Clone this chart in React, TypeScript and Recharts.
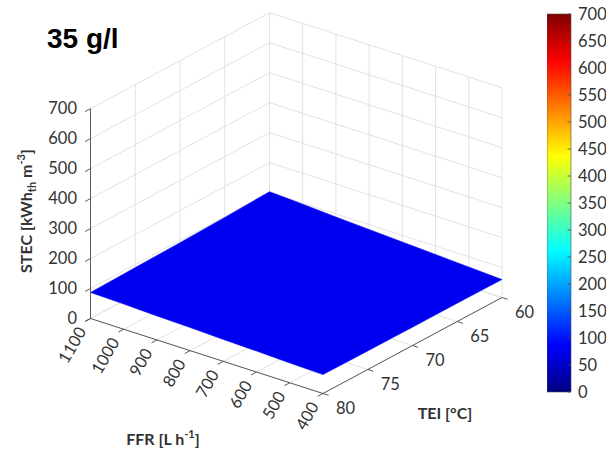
import React from 'react';
import { ComposedChart, Line, Area, Scatter, XAxis, YAxis, BarChart, Bar } from 'recharts';

// ---------- data ----------
const FFR_VALUES = [400, 500, 600, 700, 800, 900, 1000, 1100];
const TEI_VALUES = [60, 65, 70, 75, 80];
// STEC rows, one per TEI value, columns follow FFR_VALUES
const STEC_TEI60 = [60, 66, 72, 78, 84, 90, 97, 103];
const STEC_TEI65 = [61, 66, 71, 76, 81, 86, 91, 97];
const STEC_TEI70 = [61, 65, 70, 74, 79, 84, 88, 93];
const STEC_TEI75 = [62, 66, 70, 74, 78, 82, 86, 90];
const STEC_TEI80 = [63, 66, 70, 73, 77, 80, 84, 87];
const STEC_ROWS = [STEC_TEI60, STEC_TEI65, STEC_TEI70, STEC_TEI75, STEC_TEI80];

const FFR_TICKS = [1100, 1000, 900, 800, 700, 600, 500, 400];
const TEI_TICKS = [80, 75, 70, 65, 60];
const STEC_TICKS = [0, 100, 200, 300, 400, 500, 600, 700];
const CBAR_TICKS = [0, 50, 100, 150, 200, 250, 300, 350, 400, 450, 500, 550, 600, 650, 700];
const CBAR_LIMITS = [0, 700];
const TITLE = '35 g/l';

// ---------- view / layout ----------
const W = 606;
const H = 456;
const FMAX = Math.max(...FFR_VALUES);
const FMIN = Math.min(...FFR_VALUES);
const TMAX = Math.max(...TEI_VALUES);
const TMIN = Math.min(...TEI_VALUES);
const ZMAX = Math.max(...STEC_TICKS);
const VIEW = {
  ax: 90.5,
  ay: 318.5,
  fx: 232.5 / 700,
  fy: 75 / 700,
  tx: 179 / 20,
  ty: -96 / 20,
  zy: 209.8 / 700,
};
const proj = (f: number, t: number, z: number) => ({
  x: VIEW.ax + (FMAX - f) * VIEW.fx + (TMAX - t) * VIEW.tx,
  y: VIEW.ay + (FMAX - f) * VIEW.fy + (TMAX - t) * VIEW.ty - z * VIEW.zy,
});

const GRID = '#e2e2e2';
const AXIS = '#4a4a4a';
const TXT = '#333333';
const FONT = 'Lato, "Open Sans", sans-serif';

function jet(v: number) {
  const x = (v - CBAR_LIMITS[0]) / (CBAR_LIMITS[1] - CBAR_LIMITS[0]);
  const c = (a: number) => Math.max(0, Math.min(1, a));
  const r = c(Math.min(4 * x - 1.5, -4 * x + 4.5));
  const g = c(Math.min(4 * x - 0.5, -4 * x + 3.5));
  const b = c(Math.min(4 * x + 0.5, -4 * x + 2.5));
  const h = (n: number) => Math.round(n * 255).toString(16).padStart(2, '0');
  return '#' + h(r) + h(g) + h(b);
}

type Pt = { x: number; y: number };
type Seg = { pts: Pt[] };

const stec = (f: number, t: number) => STEC_ROWS[TEI_VALUES.indexOf(t)][FFR_VALUES.indexOf(f)];

// grid segments (walls + floor)
const gridSegs: Seg[] = [];
STEC_TICKS.forEach((z) => {
  gridSegs.push({ pts: [proj(FMAX, TMAX, z), proj(FMAX, TMIN, z)] });
  gridSegs.push({ pts: [proj(FMAX, TMIN, z), proj(FMIN, TMIN, z)] });
});
TEI_TICKS.filter((t) => t !== TMAX).forEach((t) => {
  gridSegs.push({ pts: [proj(FMAX, t, 0), proj(FMAX, t, ZMAX)] });
});
FFR_TICKS.filter((f) => f !== FMAX).forEach((f) => {
  gridSegs.push({ pts: [proj(f, TMIN, 0), proj(f, TMIN, ZMAX)] });
});
FFR_TICKS.forEach((f) => gridSegs.push({ pts: [proj(f, TMAX, 0), proj(f, TMIN, 0)] }));
TEI_TICKS.forEach((t) => gridSegs.push({ pts: [proj(FMAX, t, 0), proj(FMIN, t, 0)] }));

// surface outline chains from data
const fDesc = [...FFR_VALUES].sort((a, b) => b - a);
const tDesc = [...TEI_VALUES].sort((a, b) => b - a);
const topChain: Pt[] = [
  ...tDesc.map((t) => proj(FMAX, t, stec(FMAX, t))),
  ...fDesc.slice(1).map((f) => proj(f, TMIN, stec(f, TMIN))),
];
const botChain: Pt[] = [
  ...fDesc.map((f) => proj(f, TMAX, stec(f, TMAX))),
  ...tDesc.slice(1).map((t) => proj(FMIN, t, stec(FMIN, t))),
];
const along = (chain: Pt[], x: number) => {
  for (let i = 0; i < chain.length - 1; i++) {
    const a = chain[i];
    const b = chain[i + 1];
    if (x >= a.x - 1e-9 && x <= b.x + 1e-9) {
      const k = b.x === a.x ? 0 : (x - a.x) / (b.x - a.x);
      return a.y + k * (b.y - a.y);
    }
  }
  return chain[chain.length - 1].y;
};
const xs = Array.from(new Set([...topChain, ...botChain].map((p) => p.x))).sort((a, b) => a - b);
const surfaceData = xs.map((x) => ({ x, range: [along(botChain, x), along(topChain, x)] }));
const allVals = STEC_ROWS.flat();
const surfaceColor = jet(allVals.reduce((s, v) => s + v, 0) / allVals.length);

// axes + ticks
const axisSegs: Seg[] = [
  { pts: [proj(FMAX, TMAX, 0), proj(FMAX, TMAX, ZMAX)] },
  { pts: [proj(FMAX, TMAX, 0), proj(FMIN, TMAX, 0)] },
  { pts: [proj(FMIN, TMAX, 0), proj(FMIN, TMIN, 0)] },
];
STEC_TICKS.forEach((z) => axisSegs.push({ pts: [proj(FMAX, TMAX, z), proj(FMAX, TMAX + 0.6, z)] }));
FFR_TICKS.forEach((f) => axisSegs.push({ pts: [proj(f, TMAX, 0), proj(f, TMAX + 0.6, 0)] }));
TEI_TICKS.forEach((t) => axisSegs.push({ pts: [proj(FMIN, t, 0), proj(FMIN - 17, t, 0)] }));

type Lab = Pt & { label: string; kind: string };
const labels: Lab[] = [
  ...STEC_TICKS.map((z) => ({ ...proj(FMAX, TMAX, z), label: String(z), kind: 'z' })),
  ...FFR_TICKS.map((f) => ({ ...proj(f, TMAX + 1, 0), label: String(f), kind: 'f' })),
  ...TEI_TICKS.map((t) => ({ ...proj(FMIN - 65, t, 0), label: String(t), kind: 't' })),
  { x: 47, y: 48, label: TITLE, kind: 'title' },
  { x: 32, y: 211, label: 'STEC', kind: 'ztitle' },
  { x: 163, y: 445, label: 'FFR', kind: 'ftitle' },
  { x: 445, y: 419, label: 'TEI [°C]', kind: 'ttitle' },
];

const LabelShape = (p: any) => {
  const { cx, cy, payload } = p;
  const k = payload.kind;
  if (k === 'z')
    return (
      <text x={cx - 13.5} y={cy - 1} textAnchor="end" dominantBaseline="central" fontSize={16.5} fontFamily={FONT} fill={TXT}>
        {payload.label}
      </text>
    );
  if (k === 'f')
    return (
      <text x={cx} y={cy + 5} textAnchor="end" dominantBaseline="central" fontSize={16.5} fontFamily={FONT} fill={TXT}
        transform={`rotate(-60 ${cx} ${cy + 5})`}>
        {payload.label}
      </text>
    );
  if (k === 't')
    return (
      <text x={cx + 1} y={cy + 7.5} textAnchor="middle" dominantBaseline="central" fontSize={16.5} fontFamily={FONT} fill={TXT}>
        {payload.label}
      </text>
    );
  if (k === 'title')
    return (
      <text x={cx} y={cy} fontSize={28} fontWeight="bold" fontFamily='"Liberation Sans", Arial, sans-serif' fill="#000">
        {payload.label}
      </text>
    );
  if (k === 'ztitle')
    return (
      <text x={cx} y={cy} textAnchor="middle" fontSize={16} fontWeight="bold" fontFamily={FONT} fill={TXT}
        transform={`rotate(-90 ${cx} ${cy})`}>
        STEC [kWh<tspan fontSize={11} dy={4}>th</tspan>
        <tspan dy={-4}> m</tspan>
        <tspan fontSize={11} dy={-7}>-3</tspan>
        <tspan dy={7}>]</tspan>
      </text>
    );
  if (k === 'ftitle')
    return (
      <text x={cx} y={cy} textAnchor="middle" fontSize={16} fontWeight="bold" fontFamily={FONT} fill={TXT}>
        FFR [L h<tspan fontSize={11} dy={-7}>-1</tspan>
        <tspan dy={7}>]</tspan>
      </text>
    );
  return (
    <text x={cx} y={cy} textAnchor="middle" fontSize={16} fontWeight="bold" fontFamily={FONT} fill={TXT}>
      {payload.label}
    </text>
  );
};

const Frame = ({ children }: { children: React.ReactNode }) => (
  <div style={{ position: 'absolute', left: 0, top: 0, width: W, height: H }}>
    <ComposedChart width={W} height={H} margin={{ top: 0, right: 0, bottom: 0, left: 0 }}>
      <XAxis type="number" dataKey="x" domain={[0, W]} hide allowDataOverflow />
      <YAxis type="number" dataKey="y" domain={[0, H]} reversed hide allowDataOverflow />
      {children}
    </ComposedChart>
  </div>
);

const segLines = (segs: Seg[], color: string, width: number, prefix: string) =>
  segs.map((s, i) => (
    <Line
      key={prefix + i}
      data={s.pts}
      dataKey="y"
      type="linear"
      stroke={color}
      strokeWidth={width}
      dot={false}
      activeDot={false}
      isAnimationActive={false}
      legendType="none"
    />
  ));

const CbTick = (p: any) => {
  const { x, y, payload } = p;
  return (
    <g>
      <line x1={x - 7} x2={x - 10.5} y1={y} y2={y} stroke={AXIS} strokeWidth={0.8} />
      <text x={x} y={y} dy="0.355em" textAnchor="start" fontSize={16.5} fontFamily={FONT} fill={TXT}>
        {payload.value}
      </text>
    </g>
  );
};

const JET_STOPS = [
  { o: 0, c: '#000080' },
  { o: 0.125, c: '#0000ff' },
  { o: 0.375, c: '#00ffff' },
  { o: 0.625, c: '#ffff00' },
  { o: 0.875, c: '#ff0000' },
  { o: 1, c: '#800000' },
];

export default function App() {
  return (
    <div style={{ position: 'absolute', left: 0, top: 0, width: W, height: H, background: '#fff' }}>
      <Frame>{segLines(gridSegs, GRID, 1, 'g')}</Frame>
      <Frame>
        <Area
          data={surfaceData}
          dataKey="range"
          type="linear"
          stroke={surfaceColor}
          strokeWidth={0.5}
          fill={surfaceColor}
          fillOpacity={1}
          dot={false}
          activeDot={false}
          isAnimationActive={false}
          legendType="none"
        />
      </Frame>
      <Frame>
        {segLines(axisSegs, AXIS, 0.9, 'a')}
        <Scatter data={labels} shape={LabelShape} isAnimationActive={false} legendType="none" />
      </Frame>
      <div style={{ position: 'absolute', left: 547, top: 0 }}>
        <BarChart width={59} height={H} data={[{ name: 'cb', v: CBAR_LIMITS[1] }]} margin={{ top: 14, right: 0, bottom: 64, left: 0 }} barCategoryGap={0}>
          <defs>
            <linearGradient id="jetGrad" x1="0" y1="1" x2="0" y2="0">
              {JET_STOPS.map((s) => (
                <stop key={s.o} offset={s.o} stopColor={s.c} />
              ))}
            </linearGradient>
          </defs>
          <XAxis dataKey="name" hide />
          <YAxis
            orientation="right"
            type="number"
            domain={CBAR_LIMITS}
            ticks={CBAR_TICKS}
            interval={0}
            width={35}
            axisLine={false}
            tickLine={false}
            tickSize={0}
            tickMargin={7}
            tick={CbTick}
          />
          <Bar dataKey="v" fill="url(#jetGrad)" stroke={AXIS} strokeWidth={0.6} isAnimationActive={false} />
        </BarChart>
      </div>
    </div>
  );
}
